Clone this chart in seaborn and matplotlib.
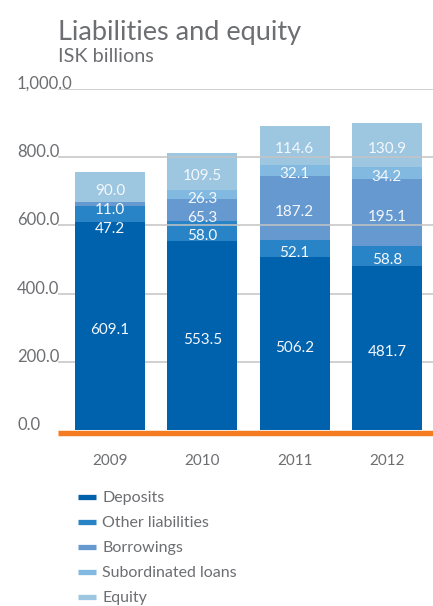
import matplotlib
matplotlib.use("Agg")
import matplotlib.pyplot as plt
import seaborn as sns
import pandas as pd
import numpy as np
from matplotlib.lines import Line2D
from matplotlib.transforms import offset_copy

years = ["2009", "2010", "2011", "2012"]
series = ["Deposits", "Other liabilities", "Borrowings", "Subordinated loans", "Equity"]
deposits = [609.1, 553.5, 506.2, 481.7]
other_liabilities = [47.2, 58.0, 52.1, 58.8]
borrowings = [11.0, 65.3, 187.2, 195.1]
subordinated_loans = [0.0, 26.3, 32.1, 34.2]
equity = [90.0, 109.5, 114.6, 130.9]
colors = ["#0061AD", "#2884C6", "#6699D0", "#81B9E1", "#9DC6E0"]
yticks = [0, 200, 400, 600, 800, 1000]
ytick_labels = ["0.0", "200.0", "400.0", "600.0", "800.0", "1,000.0"]

values = [deposits, other_liabilities, borrowings, subordinated_loans, equity]

sns.set_theme(style="white")
plt.rcParams["font.family"] = ["Lato", "DejaVu Sans"]
grey = "#6D6E71"

W, H = 433, 606
fig = plt.figure(figsize=(W / 100, H / 100), dpi=100)
ax = fig.add_axes([58 / W, 1 - 430 / H, 375 / W, (430 - 89) / H])

cum = np.zeros(len(years))
cums = []
for v in values:
    bottom = cum.copy()
    cum = cum + np.array(v)
    cums.append((bottom, cum.copy()))

# draw cumulative layers from top to bottom
for i in range(len(series) - 1, -1, -1):
    d = pd.DataFrame({"year": years, "top": cums[i][1]})
    sns.barplot(data=d, x="year", y="top", color=colors[i], saturation=1,
                width=0.76, errorbar=None, ax=ax, linewidth=0, edgecolor="none",
                zorder=3 if i == 0 else 1)

ax.set_xlim(-0.565, 3.5)
ax.set_ylim(0, 1000)
for s in ax.spines.values():
    s.set_visible(False)

# gridlines
for t in yticks[1:]:
    ax.axhline(t, color="#C4C4C4", lw=1.1, zorder=2)

ax.set_yticks(yticks)
ax.set_yticklabels(ytick_labels)
ax.tick_params(axis="y", length=0, pad=41 * 0.72, labelsize=12, labelcolor=grey)
for lab in ax.get_yticklabels():
    lab.set_horizontalalignment("left")
    lab.set_verticalalignment("baseline")
    lab.set_bbox(dict(facecolor="white", edgecolor="none", pad=0.5))
ax.tick_params(axis="x", length=0, pad=17, labelsize=11, labelcolor=grey)
ax.set_xlabel("")
ax.set_ylabel("")

# orange baseline
tr = offset_copy(ax.get_yaxis_transform(), fig=fig, y=-2.6, units="dots")
ax.plot([0, 1], [0, 0], color="#F47B20", lw=3.9, transform=tr,
        clip_on=False, zorder=5, solid_capstyle="butt")

# value labels with simple overlap resolution
min_gap = 55
for j in range(len(years)):
    prev = None
    for i in range(len(series) - 1, -1, -1):
        val = values[i][j]
        if val <= 0:
            continue
        y = (cums[i][0][j] + cums[i][1][j]) / 2
        if prev is not None and prev - y < min_gap:
            y = prev - min_gap
        prev = y
        ax.annotate(f"{val:.1f}", (j, y), xytext=(0, -3), textcoords="offset points",
                    ha="center", va="center", color="#F4F8FC", fontsize=11, zorder=6)

# titles
fig.text(58 / W, 1 - 40 / H, "Liabilities and equity", fontsize=19.5, color=grey,
         va="baseline", ha="left")
fig.text(58 / W, 1 - 62 / H, "ISK billions", fontsize=14.3, color=grey,
         va="baseline", ha="left")

handles = [Line2D([0], [0], color=c, lw=3.8, solid_capstyle="butt") for c in colors]
leg = fig.legend(handles, series, loc="upper left", bbox_to_anchor=(78 / W, 1 - 491 / H),
                 frameon=False, fontsize=11.5, handlelength=1.1, handletextpad=0.42,
                 labelspacing=0.68, borderpad=0, borderaxespad=0)
for t in leg.get_texts():
    t.set_color(grey)

fig.savefig("out.png", dpi=100)
